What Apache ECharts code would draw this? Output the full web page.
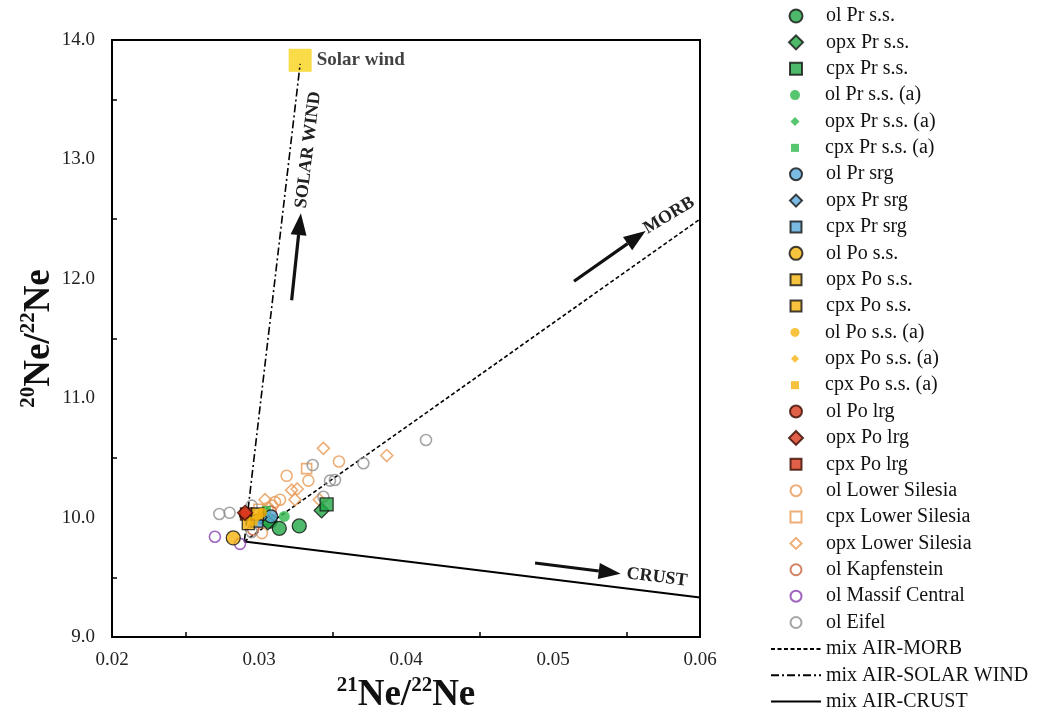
<!DOCTYPE html>
<html>
<head>
<meta charset="utf-8">
<script src="https://cdn.jsdelivr.net/npm/echarts@6/dist/echarts.min.js"></script>
<style>
  html, body { margin: 0; padding: 0; background: #fff; }
  #chart { width: 1038px; height: 713px; }
</style>
</head>
<body>
<div id="chart"></div>
<script>
// Neon isotope ratios: [21Ne/22Ne, 20Ne/22Ne]
const olPrSS      = [[0.03075, 9.97], [0.03138, 9.91], [0.03274, 9.93]];
const opxPrSS     = [[0.03060, 9.96], [0.03426, 10.06]];
const cpxPrSS     = [[0.03460, 10.11]];
const olPrSSa     = [[0.03172, 10.01]];
const opxPrSSa    = [[0.03035, 10.03]];
const cpxPrSSa    = [[0.03050, 10.06]];
const olPrSrg     = [[0.03082, 10.01]];
const opxPrSrg    = [[0.03010, 10.00]];
const cpxPrSrg    = [[0.02985, 9.97]];
const olPoSS      = [[0.02825, 9.83]];
const opxPoSS     = [[0.02927, 9.95]];
const cpxPoSS     = [[0.02990, 10.03]];
const olPoSSa     = [[0.03020, 10.04]];
const opxPoSSa    = [[0.02990, 10.00]];
const cpxPoSSa    = [[0.02960, 9.97]];
const olPoLrg     = [[0.02910, 10.03]];
const opxPoLrg    = [[0.02905, 10.04]];
const cpxPoLrg    = [[0.02915, 10.03]];
const olLowerSil  = [[0.03188, 10.35], [0.03336, 10.31], [0.03544, 10.47], [0.03109, 10.13],
                     [0.03143, 10.15], [0.03020, 9.87], [0.03060, 10.08], [0.03090, 10.10]];
const cpxLowerSil = [[0.03324, 10.41], [0.03000, 10.07]];
const opxLowerSil = [[0.03438, 10.58], [0.03869, 10.52], [0.03222, 10.23], [0.03260, 10.24],
                     [0.03041, 10.15], [0.03245, 10.15], [0.03410, 10.15]];
const olKapfen    = [[0.02960, 9.90], [0.03080, 10.05]];
const olMassifC   = [[0.02700, 9.84], [0.02871, 9.78]];
const olEifel     = [[0.02730, 10.03], [0.02800, 10.04], [0.03365, 10.44], [0.03710, 10.455],
                     [0.04136, 10.65], [0.03483, 10.31], [0.03517, 10.315], [0.03438, 10.175],
                     [0.02950, 10.10], [0.02950, 9.88]];

// End-members and mixing lines
const solarWind   = [[0.03280, 13.83]];
const mixMorb     = [[0.0290, 9.80], [0.0600, 12.50]];
const mixSolar    = [[0.0290, 9.80], [0.0328, 13.80]];
const mixCrust    = [[0.0290, 9.80], [0.0600, 9.33]];

// Axis ranges and ticks
const xRange = { min: 0.02, max: 0.06, step: 0.01 };
const yRange = { min: 9, max: 14, step: 1 };

const SERIF = '"Liberation Serif", "Times New Roman", serif';

// Marker colours
const GREEN = '#22A845', GREEN_A = '#2DB84A', BLUE = '#5AAADC', YELLOW = '#F5B30C';
const RED = '#D8381C', ORANGE = '#E89A55', KAPF = '#C8623C', PURPLE = '#8A3FB0', GREY = '#8F8F8F';

const groups = [
  { name: 'ol Pr s.s.',        data: olPrSS,      symbol: 'circle',  size: 14, fill: GREEN,  border: '#111', bw: 1.3 },
  { name: 'opx Pr s.s.',       data: opxPrSS,     symbol: 'diamond', size: 15, fill: GREEN,  border: '#111', bw: 1.3 },
  { name: 'cpx Pr s.s.',       data: cpxPrSS,     symbol: 'rect',    size: 13, fill: GREEN,  border: '#111', bw: 1.3 },
  { name: 'ol Pr s.s. (a)',    data: olPrSSa,     symbol: 'circle',  size: 11, fill: GREEN_A },
  { name: 'opx Pr s.s. (a)',   data: opxPrSSa,    symbol: 'diamond', size: 10, fill: GREEN_A },
  { name: 'cpx Pr s.s. (a)',   data: cpxPrSSa,    symbol: 'rect',    size: 9,  fill: GREEN_A },
  { name: 'ol Pr srg',         data: olPrSrg,     symbol: 'circle',  size: 13, fill: BLUE,   border: '#111', bw: 1.3 },
  { name: 'opx Pr srg',        data: opxPrSrg,    symbol: 'diamond', size: 13, fill: BLUE,   border: '#111', bw: 1.3 },
  { name: 'cpx Pr srg',        data: cpxPrSrg,    symbol: 'rect',    size: 12, fill: BLUE,   border: '#111', bw: 1.3 },
  { name: 'ol Po s.s.',        data: olPoSS,      symbol: 'circle',  size: 14, fill: YELLOW, border: '#111', bw: 1.3 },
  { name: 'opx Po s.s.',       data: opxPoSS,     symbol: 'rect',    size: 12, fill: YELLOW, border: '#111', bw: 1.3 },
  { name: 'cpx Po s.s.',       data: cpxPoSS,     symbol: 'rect',    size: 12, fill: YELLOW, border: '#111', bw: 1.3 },
  { name: 'ol Po s.s. (a)',    data: olPoSSa,     symbol: 'circle',  size: 10, fill: YELLOW },
  { name: 'opx Po s.s. (a)',   data: opxPoSSa,    symbol: 'diamond', size: 9,  fill: YELLOW },
  { name: 'cpx Po s.s. (a)',   data: cpxPoSSa,    symbol: 'rect',    size: 9,  fill: YELLOW },
  { name: 'ol Po lrg',         data: olPoLrg,     symbol: 'circle',  size: 13, fill: RED,    border: '#3a0a00', bw: 1.3, z: 3 },
  { name: 'opx Po lrg',        data: opxPoLrg,    symbol: 'diamond', size: 15, fill: RED,    border: '#3a0a00', bw: 1.3 },
  { name: 'cpx Po lrg',        data: cpxPoLrg,    symbol: 'rect',    size: 12, fill: RED,    border: '#3a0a00', bw: 1.3, z: 3 },
  { name: 'ol Lower Silesia',  data: olLowerSil,  symbol: 'circle',  size: 11, open: ORANGE },
  { name: 'cpx Lower Silesia', data: cpxLowerSil, symbol: 'rect',    size: 10, open: ORANGE },
  { name: 'opx Lower Silesia', data: opxLowerSil, symbol: 'diamond', size: 12, open: ORANGE },
  { name: 'ol Kapfenstein',    data: olKapfen,    symbol: 'circle',  size: 11, open: KAPF },
  { name: 'ol Massif Central', data: olMassifC,   symbol: 'circle',  size: 11, open: PURPLE },
  { name: 'ol Eifel',          data: olEifel,     symbol: 'circle',  size: 11, open: GREY }
];

const mixLines = [
  { name: 'mix AIR-MORB',       data: mixMorb,  type: [4, 2.5],        width: 1.6 },
  { name: 'mix AIR-SOLAR WIND', data: mixSolar, type: [8, 3, 2, 3],    width: 1.6 },
  { name: 'mix AIR-CRUST',      data: mixCrust, type: 'solid',         width: 2 }
];

// Direction arrows with their captions (data coordinates)
const arrows = [
  { tail: [0.03222, 11.82], tip: [0.03285, 12.55], text: 'SOLAR WIND', at: [0.03335, 13.08], rot: 83 },
  { tail: [0.05143, 11.98], tip: [0.05630, 12.40], text: 'MORB',       at: [0.05790, 12.53], rot: 31 },
  { tail: [0.04878, 9.62],  tip: [0.05460, 9.53],  text: 'CRUST',      at: [0.05707, 9.50],  rot: -7 }
];

const scatterSeries = groups.map(g => ({
  type: 'scatter',
  name: g.name,
  data: g.data,
  symbol: g.symbol,
  symbolSize: g.size,
  z: g.z || (g.open ? 3 : 4),
  itemStyle: g.open
    ? { color: 'rgba(255,255,255,0)', borderColor: g.open, borderWidth: 1.6 }
    : { color: g.fill, borderColor: g.border || g.fill, borderWidth: g.bw || 0 },
  emphasis: { disabled: true }
}));

const lineSeries = mixLines.map(m => ({
  type: 'line',
  name: m.name,
  data: m.data,
  symbol: 'none',
  z: 2,
  lineStyle: { color: '#000', width: m.width, type: m.type },
  emphasis: { disabled: true }
}));

const solarSeries = {
  type: 'scatter',
  name: 'Solar wind',
  data: solarWind,
  symbol: 'rect',
  symbolSize: 23,
  z: 1,
  itemStyle: { color: '#F8D31A' },
  label: {
    show: true, position: 'right', distance: 5, formatter: 'Solar wind',
    fontFamily: SERIF, fontWeight: 'bold', fontSize: 19, color: '#111'
  },
  emphasis: { disabled: true }
};

const arrowSeries = {
  type: 'custom',
  coordinateSystem: 'cartesian2d',
  data: arrows.map(a => a.tail),
  z: 5,
  silent: true,
  renderItem: (params, api) => {
    const a = arrows[params.dataIndex];
    const p0 = api.coord(a.tail), p1 = api.coord(a.tip), pt = api.coord(a.at);
    const dx = p1[0] - p0[0], dy = p1[1] - p0[1];
    const len = Math.hypot(dx, dy), ux = dx / len, uy = dy / len;
    const headL = 22, headW = 8;
    const bx = p1[0] - ux * headL, by = p1[1] - uy * headL;
    return {
      type: 'group',
      children: [
        { type: 'line', shape: { x1: p0[0], y1: p0[1], x2: bx, y2: by },
          style: { stroke: '#111', lineWidth: 3.2 } },
        { type: 'polygon',
          shape: { points: [[p1[0], p1[1]], [bx - uy * headW, by + ux * headW], [bx + uy * headW, by - ux * headW]] },
          style: { fill: '#111' } },
        { type: 'text', x: pt[0], y: pt[1], rotation: a.rot * Math.PI / 180,
          style: { text: a.text, fontFamily: SERIF, fontWeight: 'bold', fontSize: 18,
                   fill: '#222', align: 'center', verticalAlign: 'middle' } }
      ]
    };
  }
};

// One legend block per row so every marker keeps its own size;
// marker centres share one column and labels start on one edge.
const ICON_X = 795, TEXT_X = 825, LINE_W = 50;
const ROW0 = 16, ROW_STEP = 26.37;
const legendRows = groups.map(g => ({ name: g.name, w: g.open ? 11 : g.size - 1, line: false }))
  .concat(mixLines.map(m => ({ name: m.name, w: LINE_W, line: true })));

const legends = legendRows.map((r, i) => {
  const iconW = r.line ? LINE_W : r.w;
  const iconH = r.line ? 10 : r.w;
  const left = ICON_X - iconW / 2;
  return {
    data: r.line ? [{ name: r.name, itemStyle: { opacity: 0 } }] : [r.name],
    orient: 'vertical',
    left: left,
    top: ROW0 + i * ROW_STEP - 11,
    padding: 0,
    itemWidth: iconW,
    itemHeight: iconH,
    symbolKeepAspect: true,
    selectedMode: false,
    textStyle: {
      fontFamily: SERIF, fontSize: 20, color: '#111', lineHeight: 22,
      padding: [0, 0, 0, TEXT_X - (left + iconW + 5)]
    }
  };
});

const chart = echarts.init(document.getElementById('chart'), null, { renderer: 'canvas' });

const axisTitleRich = {
  s: { fontFamily: SERIF, fontWeight: 'bold', fontSize: 21, color: '#111', verticalAlign: 'top', lineHeight: 23 },
  b: { fontFamily: SERIF, fontWeight: 'bold', fontSize: 37, color: '#111', lineHeight: 42 }
};

chart.setOption({
  animation: false,
  backgroundColor: '#fff',
  grid: {
    left: 112, right: 338, top: 40, bottom: 76,
    outerBoundsMode: 'none',
    show: true, borderColor: '#000', borderWidth: 2
  },
  legend: legends,
  xAxis: {
    type: 'value',
    min: xRange.min, max: xRange.max, interval: xRange.step,
    name: '{s|21}{b|Ne/}{s|22}{b|Ne}',
    nameLocation: 'middle', nameGap: 30,
    nameTextStyle: { rich: axisTitleRich },
    axisLine: { lineStyle: { color: '#000', width: 2 } },
    axisTick: { show: false, inside: true },
    minorTick: { show: true, splitNumber: 2, length: 5, lineStyle: { color: '#000', width: 1.5 } },
    splitLine: { show: false },
    axisLabel: { fontFamily: SERIF, fontSize: 19, color: '#222', margin: 14, formatter: v => v.toFixed(2) }
  },
  yAxis: {
    type: 'value',
    min: yRange.min, max: yRange.max, interval: yRange.step,
    name: '{s|20}{b|Ne/}{s|22}{b|Ne}',
    nameLocation: 'middle', nameGap: 52, nameRotate: 90,
    nameMoveOverlap: false,
    nameTextStyle: { rich: axisTitleRich },
    axisLine: { lineStyle: { color: '#000', width: 2 } },
    axisTick: { show: false, inside: true },
    minorTick: { show: true, splitNumber: 2, length: 5, lineStyle: { color: '#000', width: 1.5 } },
    splitLine: { show: false },
    axisLabel: { fontFamily: SERIF, fontSize: 19, color: '#222', margin: 17, formatter: v => v.toFixed(1) }
  },
  series: [solarSeries].concat(lineSeries, scatterSeries, [arrowSeries])
});
</script>
</body>
</html>
